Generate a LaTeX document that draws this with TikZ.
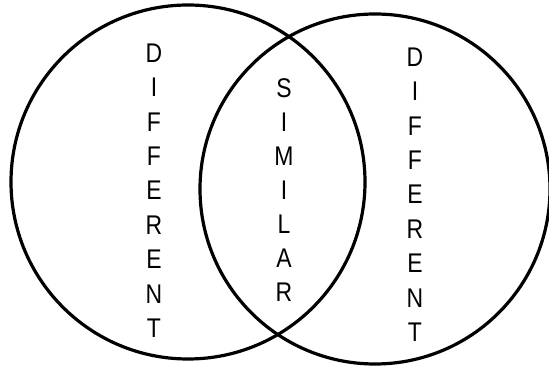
\documentclass[tikz,border=0pt]{standalone}
\usepackage{fontspec}
\newfontfamily\vennfont{Liberation Sans}
\usepackage{tikz}
\usetikzlibrary{positioning, calc}

\begin{document}
\begin{tikzpicture}[x=1pt, y=1pt,
    ring/.style={line width=3.2pt, black},
    letter/.style={inner sep=0pt, font=\vennfont\fontsize{27}{27}\selectfont, xscale=0.85}]

    % fix the page to the reference size
    \useasboundingbox (0,0) rectangle (549,367);

    % ==================== CIRCLES ====================
    \coordinate (cl) at (188,185);
    \coordinate (cr) at (375,178);
    \draw[ring] (cl) circle (177);
    \draw[ring] (cr) circle (175);

    % ==================== LETTER COLUMNS ====================
    % Left column
    \foreach \ch [count=\i] in {D,I,F,F,E,R,E,N,T}
        \node[letter] (difl\i) at ({154}, {314-34.4*(\i-1)}) {\ch};

    % Middle column (overlap)
    \foreach \ch [count=\i] in {S,I,M,I,L,A,R}
        \node[letter] (sim\i) at ({284}, {279-34*(\i-1)}) {\ch};

    % Right column
    \foreach \ch [count=\i] in {D,I,F,F,E,R,E,N,T}
        \node[letter] (difr\i) at ({415}, {310-34.4*(\i-1)}) {\ch};

\end{tikzpicture}
\end{document}
